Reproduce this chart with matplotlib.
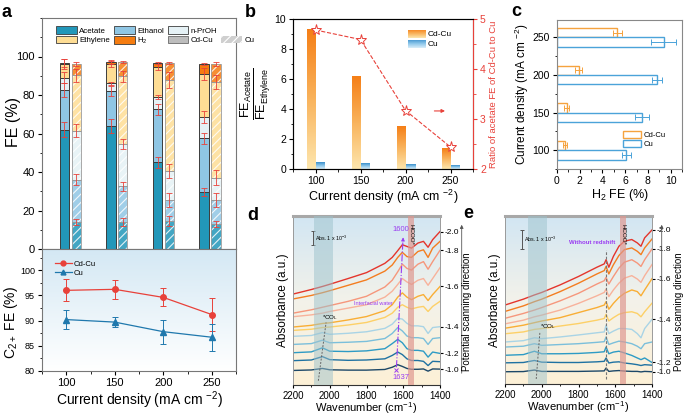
import numpy as np
import matplotlib
matplotlib.use("Agg")
import matplotlib.pyplot as plt
from matplotlib.patches import Patch
from matplotlib.lines import Line2D
from matplotlib.colors import LinearSegmentedColormap
from matplotlib.ticker import MultipleLocator

plt.rcParams['font.family'] = ['Liberation Sans', 'DejaVu Sans']
plt.rcParams['mathtext.fontset'] = 'custom'
plt.rcParams['mathtext.rm'] = 'Liberation Sans'
plt.rcParams['mathtext.it'] = 'Liberation Sans:italic'
plt.rcParams['mathtext.default'] = 'regular'
plt.rcParams['hatch.linewidth'] = 0.8

# --- data ------------------------------------------------------------------
current = [100, 150, 200, 250]

# panel a, stacked FE segments (%)
seg_names = ['Acetate', 'Ethanol', 'n-PrOH', 'Ethylene', 'H$_2$']
cdcu_acetate = [62, 64, 45, 29.5]
cdcu_ethanol = [20.5, 18, 27.5, 28]
cdcu_npro = [6.5, 4, 6.5, 11]
cdcu_ethylene = [7, 10.2, 15.6, 22.5]
cdcu_h2 = [0.7, 0.85, 1.9, 5.3]
cu_acetate = [14, 14, 14.5, 13]
cu_ethanol = [22, 18.5, 11, 12.5]
cu_npro = [25.5, 22, 15, 11.5]
cu_ethylene = [28.7, 35.2, 47.3, 49.7]
cu_h2 = [6.1, 7.5, 8.8, 9.4]
cdcu_seg_err = [[4, 3.5, 3, 2], [3.5, 2.5, 3, 3], [3, 1, 1, 3], [2.5, 1.5, 1.5, 3], [2, 1, 0.5, 0.5]]
cu_seg_err = [[1.5, 2, 2.5, 1.5], [3, 2.5, 3.5, 3.5], [3.5, 2.5, 3.5, 4], [3.5, 3, 4, 3.5], [1, 0.5, 0.5, 1]]

# panel a, C2+ FE
cdcu_c2 = [96, 96.2, 94.6, 91.2]
cdcu_c2_err = [2.2, 1.9, 1.8, 3.2]
cu_c2 = [90.2, 89.7, 87.8, 86.7]
cu_c2_err = [1.9, 1.0, 2.4, 2.7]

# panel b
cdcu_ratio = [9.3, 6.15, 2.85, 1.35]
cu_ratio = [0.45, 0.4, 0.3, 0.25]
acetate_ratio = [4.78, 4.59, 3.17, 2.44]

# panel c, H2 FE (%)
cdcu_h2_err = [0.15, 0.2, 0.3, 0.4]
cu_h2_err = [0.4, 0.6, 0.45, 1.1]

# panels d/e, spectra (offset absorbance, arbitrary units)
potentials = ['-2.0', '-1.9', '-1.8', '-1.7', '-1.6', '-1.5', '-1.4', '-1.3', '-1.2', '-1.1', '-1.0']
wn_d = [2200, 2100, 2040, 2000, 1900, 1800, 1700, 1660, 1630, 1605, 1580, 1555, 1520, 1490, 1465, 1440, 1400]
spec_d = [
    [53.8, 56.5, 58.3, 59.6, 63, 66.5, 72, 75.5, 79.5, 83, 82, 81, 84, 85, 81.5, 86, 90.8],
    [50.9, 53, 54.6, 55.8, 59, 62.2, 67.4, 71, 75.5, 78.5, 76, 75.5, 79, 80, 75.5, 81, 85],
    [42.5, 44.5, 46, 47, 49.5, 52.5, 58, 62, 67, 71.5, 69, 68, 71.5, 73, 68.5, 73, 79.7],
    [40.4, 41.5, 42.5, 43.5, 45.5, 47.5, 52, 55.5, 59.5, 63, 61, 59.5, 62, 63, 59, 63, 69.4],
    [34.3, 35.3, 36.4, 36.8, 38.5, 40.5, 44, 47.5, 52, 54.5, 52, 50.5, 52.5, 53.5, 50, 53.5, 58.3],
    [32.3, 33, 34, 34.3, 35.5, 37, 40, 42.5, 46, 47.5, 46, 45, 46, 46.5, 43.5, 46.5, 49.5],
    [28.8, 29.3, 31, 30, 30.6, 31.5, 33.5, 36, 39.5, 39, 36.5, 35, 35, 34.5, 30.5, 34, 34.5],
    [24, 24.5, 26.5, 25, 25.3, 25.8, 27.5, 30.5, 34, 32, 29, 28, 28, 27.5, 24, 27.5, 28],
    [19.1, 19.6, 22, 20, 19.8, 20.2, 21.5, 24.5, 27, 25, 21.5, 20.5, 20.5, 20, 16.5, 19.5, 18.7],
    [14.4, 14.8, 16.8, 15, 14.6, 14.8, 15.5, 17.5, 19.5, 18, 15.5, 14.5, 14.5, 14, 11.5, 14, 13.8],
    [8.6, 8.9, 9.8, 9, 8.8, 8.8, 9.2, 10.5, 12, 11, 9.8, 9.3, 9.3, 9.5, 8.2, 9.5, 9.4],
]
wn_e = [2200, 2100, 2040, 2000, 1900, 1800, 1700, 1660, 1650, 1635, 1610, 1580, 1550, 1510, 1480, 1460, 1440, 1400]
spec_e = [
    [47, 50.5, 53, 54.5, 59, 64, 69.5, 71.5, 74, 69.5, 76, 82, 85, 86, 84, 82, 87, 91.7],
    [43.2, 46.5, 49, 50.5, 55, 60, 65.5, 67.5, 70, 65.5, 71, 76.5, 80, 81, 79, 77, 81, 86.3],
    [39.1, 42, 44, 45.5, 49.5, 54, 59.5, 61.5, 63.5, 59.5, 64, 69, 72.5, 74, 72, 70, 74, 80.4],
    [35.8, 38, 40, 41, 44, 48, 52.5, 54.5, 56.5, 52, 56, 60, 63, 64.5, 62.5, 60.5, 64.5, 71.1],
    [33.2, 35, 36.5, 37.5, 39.5, 42.5, 45.5, 47, 49, 44.5, 48, 51.5, 54, 56, 55, 52.5, 56, 62.7],
    [29.9, 31, 32.5, 33, 34.5, 36, 38, 39, 41.5, 37.5, 39.5, 41.5, 42.5, 43, 42, 40, 43, 48.1],
    [25, 25.8, 27.5, 27, 28, 29.2, 30.5, 31, 35, 30, 31.5, 33, 33, 32.5, 30, 27.5, 33, 38.5],
    [22, 22.5, 24, 23, 23.5, 24, 24.8, 25.2, 28, 23.5, 24.5, 25.5, 25, 24, 22.5, 21, 24, 25],
    [17.1, 17.5, 19.5, 18, 18, 18.2, 18.8, 19.2, 22, 18, 19, 19.5, 18.5, 17, 15.5, 14.5, 15.5, 12.8],
    [12.6, 12.8, 14, 13, 12.8, 12.8, 13.2, 13.5, 15.5, 12.5, 13, 13.2, 12.5, 12, 11.5, 11, 11.5, 11.2],
    [7.3, 7.4, 8.3, 7.5, 7.5, 7.5, 7.7, 7.8, 9.5, 7.5, 7.8, 8, 7.7, 7.5, 7.5, 7.2, 7.5, 7.3],
]

# --- styling ---------------------------------------------------------------
seg_colors = ['#2297b9', '#8fc6e4', '#e5f1f5', '#fedd94', '#f57c10']
red = '#e8413a'
blue = '#1f78ad'
purple = '#9a3cf0'
spec_colors = ['#e4352c', '#f47d20', '#f6977c', '#f8b29b', '#f9ae35', '#fdd067',
               '#a9d4e6', '#7bbfdb', '#2e9bc5', '#1f72a2', '#1d4868']
W, H = 685, 418


def box(l, t, r, b):
    return [l / W, 1 - b / H, (r - l) / W, (b - t) / H]


def gray_frame(ax, color='#777777', lw=0.8):
    for s in ax.spines.values():
        s.set_color(color)
        s.set_linewidth(lw)


fig = plt.figure(figsize=(6.85, 4.18), dpi=100)

# --- panel a, stacked bars -------------------------------------------------
axa = fig.add_axes(box(42, 18, 236, 249))
pos = np.arange(len(current))
bw, off = 0.2, 0.127
cdcu_segs = [cdcu_acetate, cdcu_ethanol, cdcu_npro, cdcu_ethylene, cdcu_h2]
cu_segs = [cu_acetate, cu_ethanol, cu_npro, cu_ethylene, cu_h2]
bot_cd = np.zeros(4)
bot_cu = np.zeros(4)
for i, col in enumerate(seg_colors):
    s_cd = np.array(cdcu_segs[i], float)
    s_cu = np.array(cu_segs[i], float)
    axa.bar(pos - off, s_cd, bottom=bot_cd, width=bw, color=col,
            edgecolor='#3c3c3c', linewidth=0.7, zorder=2)
    axa.bar(pos + off, s_cu, bottom=bot_cu, width=bw, color=col, alpha=0.85,
            edgecolor='white', hatch='////', linewidth=0, zorder=2)
    axa.bar(pos + off, s_cu, bottom=bot_cu, width=bw, facecolor='none',
            edgecolor='#9a9a9a', linewidth=0.6, zorder=3)
    bot_cd += s_cd
    bot_cu += s_cu
    axa.errorbar(pos - off, bot_cd, yerr=cdcu_seg_err[i], fmt='none', ecolor=red,
                 elinewidth=0.6, capsize=2, capthick=0.6, zorder=4)
    axa.errorbar(pos + off, bot_cu, yerr=cu_seg_err[i], fmt='none', ecolor=red,
                 elinewidth=0.6, capsize=2, capthick=0.6, zorder=4)
axa.set_xlim(-0.61, 3.56)
axa.set_ylim(0, 120)
axa.set_yticks(range(0, 101, 20))
axa.yaxis.set_minor_locator(MultipleLocator(10))
axa.set_xticks([])
axa.tick_params(axis='y', labelsize=8, direction='out', length=3, pad=2)
axa.tick_params(axis='y', which='minor', length=1.8)
axa.set_ylabel('FE (%)', fontsize=11.5)
axa.yaxis.set_label_coords(-0.11, 0.55)
gray_frame(axa)

leg_handles = [Patch(fc=seg_colors[0], ec='#3c3c3c', lw=0.6, label='Acetate'),
               Patch(fc=seg_colors[3], ec='#3c3c3c', lw=0.6, label='Ethylene'),
               Patch(fc=seg_colors[1], ec='#3c3c3c', lw=0.6, label='Ethanol'),
               Patch(fc=seg_colors[4], ec='#3c3c3c', lw=0.6, label='H$_2$'),
               Patch(fc=seg_colors[2], ec='#3c3c3c', lw=0.6, label='n-PrOH'),
               Patch(fc='#bdbdbd', ec='#6a6a6a', lw=0.6, label='Cd-Cu'),
               Patch(fc='none', ec='none', label=' '),
               Patch(fc='#cfcfcf', ec='white', hatch='////', lw=0, label='Cu')]
axa.legend(handles=leg_handles, loc='upper left', bbox_to_anchor=(0.05, 0.985), ncol=4,
           fontsize=5.7, frameon=False, handlelength=2.6, handleheight=1.1,
           columnspacing=0.5, handletextpad=0.3, labelspacing=0.15, borderaxespad=0.2)

# --- panel a, C2+ FE -------------------------------------------------------
axl = fig.add_axes(box(42, 249, 236, 371))
bg = LinearSegmentedColormap.from_list('bg', ['#ffffff', '#d4e8f4'])
axl.imshow(np.linspace(0, 1, 256).reshape(-1, 1), extent=[0, 1, 0, 1], transform=axl.transAxes,
           cmap=bg, origin='lower', aspect='auto', zorder=0)
axl.errorbar(current, cdcu_c2, yerr=cdcu_c2_err, color=red, marker='o', ms=4, lw=0.9,
             elinewidth=0.7, capsize=2, capthick=0.7, zorder=3)
axl.errorbar(current, cu_c2, yerr=cu_c2_err, color=blue, marker='^', ms=4, lw=0.9,
             elinewidth=0.7, capsize=2, capthick=0.7, zorder=3)
axl.legend(handles=[Line2D([], [], color=red, marker='o', ms=3.5, lw=0.9, label='Cd-Cu'),
                    Line2D([], [], color=blue, marker='^', ms=3.5, lw=0.9, label='Cu')],
           loc='upper left', bbox_to_anchor=(0.03, 0.96), fontsize=5.5, frameon=False,
           handlelength=2.2, labelspacing=0.2, handletextpad=0.3)
axl.set_xlim(75, 275)
axl.set_ylim(80, 104.2)
axl.set_xticks(current)
axl.set_yticks(range(80, 101, 5))
axl.xaxis.set_minor_locator(MultipleLocator(25))
axl.yaxis.set_minor_locator(MultipleLocator(2.5))
axl.tick_params(axis='x', labelsize=8, length=3, pad=2)
axl.tick_params(axis='y', labelsize=6.5, length=3, pad=2)
axl.tick_params(which='minor', length=1.8)
axl.set_xlabel('Current density (mA cm $^{-2}$)', fontsize=10, labelpad=1)
axl.set_ylabel('C$_{2+}$ FE (%)', fontsize=10)
axl.yaxis.set_label_coords(-0.115, 0.4)
gray_frame(axl)

# --- panel b ---------------------------------------------------------------
axb = fig.add_axes(box(293, 19, 473, 169))
cm_or = LinearSegmentedColormap.from_list('or', ['#fde6ad', '#f9b35c', '#f57f17'])
cm_bl = LinearSegmentedColormap.from_list('bl', ['#d9eef9', '#8cc6ea', '#3a8fcb'])
vgrad = np.linspace(0, 1, 128).reshape(-1, 1)
bwb = 10
for x, hcd, hcu in zip(current, cdcu_ratio, cu_ratio):
    axb.imshow(vgrad, extent=[x - bwb, x, 0, hcd], origin='lower', cmap=cm_or,
               aspect='auto', zorder=2)
    axb.imshow(vgrad, extent=[x, x + bwb, 0, hcu], origin='lower', cmap=cm_bl,
               aspect='auto', zorder=2)
axb.set_xlim(75, 275)
axb.set_ylim(0, 10)
axb.set_xticks(current)
axb.set_yticks(range(0, 11, 2))
axb.xaxis.set_minor_locator(MultipleLocator(25))
axb.yaxis.set_minor_locator(MultipleLocator(1))
axb.tick_params(labelsize=7.5, length=3, pad=2)
axb.tick_params(which='minor', length=1.8)
axb.set_xlabel('Current density (mA cm $^{-2}$)', fontsize=9, labelpad=1)
axb.set_ylabel(r'$\frac{FE_{Acetate}}{FE_{Ethylene}}$', fontsize=13, labelpad=1)
gray_frame(axb, '#444444')
axb2 = axb.twinx()
axb2.plot(current, acetate_ratio, ls='--', color=red, lw=0.8, marker='*', ms=8,
          mfc='white', mec=red, mew=0.7, zorder=4)
axb2.set_ylim(2, 5)
axb2.set_yticks([2, 3, 4, 5])
axb2.yaxis.set_minor_locator(MultipleLocator(0.5))
axb2.tick_params(axis='y', colors=red, labelsize=7.5, length=3, pad=2)
axb2.tick_params(axis='y', which='minor', colors=red, length=1.8)
axb2.spines['right'].set_color(red)
axb2.set_ylabel('Ratio of acetate FE of Cd-Cu to Cu', color=red, fontsize=6.8, labelpad=2)
axb.annotate('', xy=(0.86, 0.387), xytext=(0.77, 0.387), xycoords='axes fraction',
             arrowprops=dict(arrowstyle='-|>', color=red, lw=0.8, mutation_scale=5))
for k, (cm, name) in enumerate([(cm_or, 'Cd-Cu'), (cm_bl, 'Cu')]):
    sw = axb.inset_axes([0.64, 0.873 - k * 0.067, 0.095, 0.054])
    sw.imshow(vgrad, origin='lower', cmap=cm, aspect='auto')
    sw.axis('off')
    axb.text(0.75, 0.90 - k * 0.067, name, transform=axb.transAxes, fontsize=6, va='center')

# --- panel c ---------------------------------------------------------------
axc = fig.add_axes(box(557, 20, 682, 169))
orange_c = '#f5a33f'
blue_c = '#4ba3d9'
hb = 12.5
axc.barh(np.array(current) + hb / 2, cdcu_h2, height=hb, facecolor='white',
         edgecolor=orange_c, linewidth=1.0, zorder=2)
axc.barh(np.array(current) - hb / 2, cu_h2, height=hb, facecolor='white',
         edgecolor=blue_c, linewidth=1.0, zorder=2)
axc.errorbar(cdcu_h2, np.array(current) + hb / 2, xerr=cdcu_h2_err, fmt='none',
             ecolor=orange_c, elinewidth=0.7, capsize=2, capthick=0.7, zorder=3)
axc.errorbar(cu_h2, np.array(current) - hb / 2, xerr=cu_h2_err, fmt='none',
             ecolor=blue_c, elinewidth=0.7, capsize=2, capthick=0.7, zorder=3)
axc.set_xlim(0, 11)
axc.set_ylim(75, 273)
axc.set_xticks(range(0, 11, 2))
axc.set_yticks(current)
axc.xaxis.set_minor_locator(MultipleLocator(1))
axc.yaxis.set_minor_locator(MultipleLocator(25))
axc.tick_params(labelsize=7.5, length=3, pad=2)
axc.tick_params(which='minor', length=1.8)
axc.set_xlabel('H$_2$ FE (%)', fontsize=9, labelpad=1)
axc.set_ylabel('Current density (mA cm $^{-2}$)', fontsize=8.5, labelpad=1)
axc.legend(handles=[Patch(fc='white', ec=orange_c, lw=1, label='Cd-Cu'),
                    Patch(fc='white', ec=blue_c, lw=1, label='Cu')],
           loc='upper left', bbox_to_anchor=(0.47, 0.30), fontsize=5.5, frameon=False,
           handlelength=2.4, handleheight=1.0, labelspacing=0.15, handletextpad=0.3)
gray_frame(axc, '#888888')


# --- panels d / e ----------------------------------------------------------
bg_de = LinearSegmentedColormap.from_list('bgde', ['#fdf0d6', '#f3f2ea', '#d2e6f3'])


def spectra_panel(ax, wn, spectra, co_band, co_line, co_text):
    ax.imshow(np.linspace(0, 1, 256).reshape(-1, 1), extent=[0, 1, 0, 1],
              transform=ax.transAxes, cmap=bg_de, origin='lower', aspect='auto', zorder=0)
    for ys, c in zip(spectra, spec_colors):
        ax.plot(wn, ys, color=c, lw=1.0, zorder=2)
    ax.axvspan(co_band[0], co_band[1], color='#9cc2cc', alpha=0.5, lw=0, zorder=3)
    ax.axvspan(1573, 1542, color='#df9890', alpha=0.7, lw=0, zorder=3)
    ax.text(1557, 89, 'HCOO*', rotation=270, fontsize=4.5, ha='center', va='center', zorder=5)
    ax.plot(co_line[0], co_line[1], ls=(0, (2, 1.5)), color='#666666', lw=0.7, zorder=4)
    ax.text(co_text[0], co_text[1], '*CO$_L$', fontsize=4.5, ha='left', va='bottom', zorder=5)
    ax.set_xlim(2200, 1400)
    ax.set_ylim(0, 100)
    ax.set_xticks([2200, 2000, 1800, 1600, 1400])
    ax.xaxis.set_minor_locator(MultipleLocator(100))
    idx = [0, 2, 4, 6, 8, 10]
    ax.set_yticks([spectra[i][-1] for i in idx])
    ax.set_yticklabels([potentials[i] for i in idx])
    ax.tick_params(axis='y', left=False, right=True, labelleft=False, labelright=True,
                   labelsize=6, length=2, pad=1.5)
    ax.tick_params(axis='x', labelsize=7, length=2.5, pad=1.5)
    ax.tick_params(axis='x', which='minor', length=1.5)
    ax.set_xlabel('Wavenumber (cm$^{-1}$)', fontsize=8, labelpad=0)
    ax.set_ylabel('Absorbance (a.u.)', fontsize=8.5, labelpad=3)
    for side in ('left', 'right'):
        ax.spines[side].set_color('#9a9a9a')
        ax.spines[side].set_linewidth(0.7)
    ax.spines['top'].set_color('#a8a8a8')
    ax.spines['top'].set_linewidth(2.2)
    ax.spines['bottom'].set_color('#333333')


axd = fig.add_axes(box(293, 216, 440, 385))
spectra_panel(axd, wn_d, spec_d, (2085, 1980), ([2062, 2020], [2.5, 37]), (2040, 37.5))
axd.errorbar([2093], [87], yerr=[3.9], color='#555555', lw=0.7, capsize=1.5, capthick=0.7)
axd.text(2078, 87, 'Abs. 1 x 10$^{-3}$', fontsize=3.8, va='center')
axd.plot([1637, 1601], [10.5, 87], ls='-.', color=purple, lw=0.8, zorder=4)
axd.annotate('', xy=(1600, 89), xytext=(1602, 84),
             arrowprops=dict(arrowstyle='-|>', color=purple, lw=0.6, mutation_scale=5), zorder=5)
axd.plot([1637], [8.8], marker='x', color=purple, ms=3, mew=0.7, zorder=5)
axd.text(1614, 92, '1600', color=purple, fontsize=5.5, ha='center', va='center', zorder=5)
axd.text(1612, 4.3, '1637', color=purple, fontsize=5.5, ha='center', va='center', zorder=5)
axd.text(1763, 48.4, 'Interfacial water', color=purple, fontsize=4, ha='center', va='center',
         zorder=5)

axe = fig.add_axes(box(505, 216, 652, 384))
spectra_panel(axe, wn_e, spec_e, (2076, 1970), ([2030, 2010], [3, 31]), (2012, 31.5))
axe.errorbar([2109], [86], yerr=[5.7], color='#555555', lw=0.7, capsize=1.5, capthick=0.7)
axe.text(2094, 86, 'Abs. 1 x 10$^{-3}$', fontsize=3.8, va='center')
axe.plot([1650, 1650], [3, 80], ls=(0, (2.5, 1.5)), color='#777777', lw=0.8, zorder=4)
axe.text(1728, 84, 'Without redshift', color=purple, fontsize=4.3, ha='center', va='center',
         weight='bold', zorder=5)

# potential scanning direction arrows
for x_line, x_text in [(461.7, 467.5), (661.7, 679.5)]:
    fig.add_artist(matplotlib.patches.FancyArrowPatch(
        (x_line / W, 1 - 376 / H), (x_line / W, 1 - 222 / H), transform=fig.transFigure,
        arrowstyle='-|>', mutation_scale=5, color='#555555', lw=0.6))
    fig.text(x_text / W, 1 - 312 / H, 'Potential scanning direction', rotation=90,
             fontsize=7, ha='center', va='center')

# panel letters
for letter, x, y in [('a', 2, 12.5), ('b', 245, 12.5), ('c', 511, 12), ('d', 247, 216), ('e', 463, 214)]:
    fig.text(x / W, 1 - y / H, letter, fontsize=13, weight='bold', ha='left', va='center')

fig.savefig('out.png', dpi=100)
